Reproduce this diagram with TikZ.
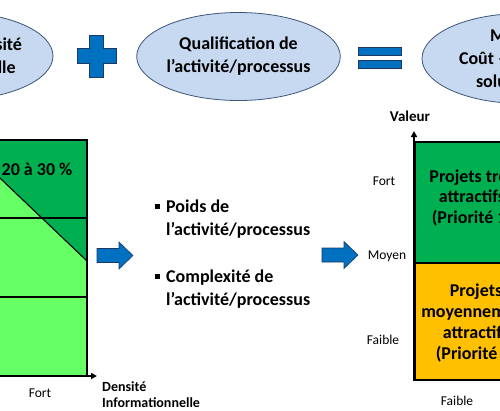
\documentclass[tikz,border=0pt]{standalone}
\usepackage{fontspec}
\setmainfont{Carlito}
\usetikzlibrary{positioning,arrows.meta,shapes.geometric}
\definecolor{ovalblue}{RGB}{198,217,241}
\definecolor{ovalline}{RGB}{60,85,120}
\definecolor{signblue}{RGB}{0,112,192}
\definecolor{signline}{RGB}{31,56,100}
\definecolor{lightgreen}{RGB}{102,255,102}
\definecolor{darkgreen}{RGB}{0,176,80}
\definecolor{prioorange}{RGB}{255,192,0}

\begin{document}
\begin{tikzpicture}[x=1bp,y=-1bp,
        oval/.style={ellipse,draw=ovalline,fill=ovalblue,line width=0.8bp,
            minimum width=200bp,minimum height=88bp,inner sep=0pt,align=center,
            font=\fontsize{18bp}{23bp}\bfseries\selectfont},
        sign/.style={draw=signline,fill=signblue,line width=0.6bp},
        gridline/.style={black,line width=1.1bp},
        axe/.style={black,line width=2bp,-{Triangle[length=6bp,width=6bp]}},
        prio/.style={align=center,inner sep=0pt,
            font=\fontsize{18bp}{20.7bp}\bfseries\selectfont},
        puceitem/.style={align=left,inner sep=0pt,anchor=west,
            font=\fontsize{18bp}{23bp}\bfseries\selectfont},
        petit/.style={inner sep=0pt,font=\fontsize{13.5bp}{16bp}\selectfont}]
            \useasboundingbox (0,0) rectangle (500,410);
            \clip (0,0) rectangle (500,410);
            % Ovales du haut
            \node[oval] (densite) at (-47,56)
                {\makebox[138bp][r]{Niveau de densité}\\informationnelle};
            \node[oval] (qualif) at (238.5,56.5) {Qualification de\\l’activité/processus};
            \node[oval,minimum height=90bp] (matrice) at (522,58.5)
                {\makebox[64bp][l]{Matrice}\\\makebox[126bp][l]{Coût – Valeur}\\\makebox[92bp][l]{solutions}};
            % Signe plus
            \filldraw[sign] (89,35) -- (103,35) -- (103,48) -- (116,48) -- (116,63)
                -- (103,63) -- (103,77) -- (89,77) -- (89,63) -- (77,63)
                -- (77,48) -- (89,48) -- cycle;
            % Signe egal
            \foreach \ey in {47,60}{
                \filldraw[sign] (358,\ey) rectangle (401,\ey+8);
            }
            % Grille de gauche
            \fill[lightgreen] (-40,140) rectangle (87,376);
            \fill[darkgreen] (-40,140) -- (87,140) -- (87,261) -- cycle;
            \foreach \gy in {218,297}{
                \draw[gridline] (-40,\gy) -- (87,\gy);
            }
            \draw[gridline] (-40,140) -- (87,261);
            \draw[gridline] (-40,140) rectangle (87,376);
            \draw[axe] (-40,376) -- (97,376);
            \node[font=\fontsize{18bp}{22bp}\bfseries\selectfont,inner sep=0pt] (taux) at (37,169) {20 à 30 \%};
            \node[petit] (fortA) at (40,393) {Fort};
            \node[petit,align=left,anchor=west,font=\fontsize{14bp}{16bp}\bfseries\selectfont]
                (axedensite) at (102,395) {Densité\\Informationnelle};
            % Fleches
            \foreach \ax/\ay in {97/255.5,322/255}{
                \filldraw[sign] (\ax,\ay-7) -- ++(22,0) -- ++(0,-6.5) -- ++(14,13.5)
                    -- ++(-14,13.5) -- ++(0,-6.5) -- ++(-22,0) -- cycle;
            }
            % Criteres
            \fill (155,204) rectangle (160,209);
            \node[puceitem] (poids) at (166,219) {Poids de\\l’activité/processus};
            \fill (155,274) rectangle (160,279);
            \node[puceitem] (complexite) at (166,289) {Complexité de\\l’activité/processus};
            % Matrice de droite
            \fill[darkgreen] (415,142) rectangle (540,263);
            \fill[prioorange] (415,263) rectangle (540,380);
            \draw[gridline] (415,142) rectangle (540,380);
            \draw[gridline] (415,263) -- (540,263);
            \draw[axe] (414,380) -- (414,131);
            \draw[black,line width=2bp] (413,380) -- (540,380);
            \node[prio] (prioA) at (472,198) {Projets très\\attractifs\\(Priorité 1)};
            \node[prio] (prioB) at (476,323) {Projets\\moyennement\\attractifs\\(Priorité 2)};
            % Axe valeur
            \node[inner sep=0pt,font=\fontsize{15bp}{18bp}\bfseries\selectfont] (valeur) at (410,116) {Valeur};
            \node[petit] (fortB) at (384,181) {Fort};
            \node[petit] (moyen) at (387,256) {Moyen};
            \node[petit] (faibleA) at (383,340) {Faible};
            \node[petit] (faibleB) at (457,401) {Faible};
        \end{tikzpicture}
\end{document}
